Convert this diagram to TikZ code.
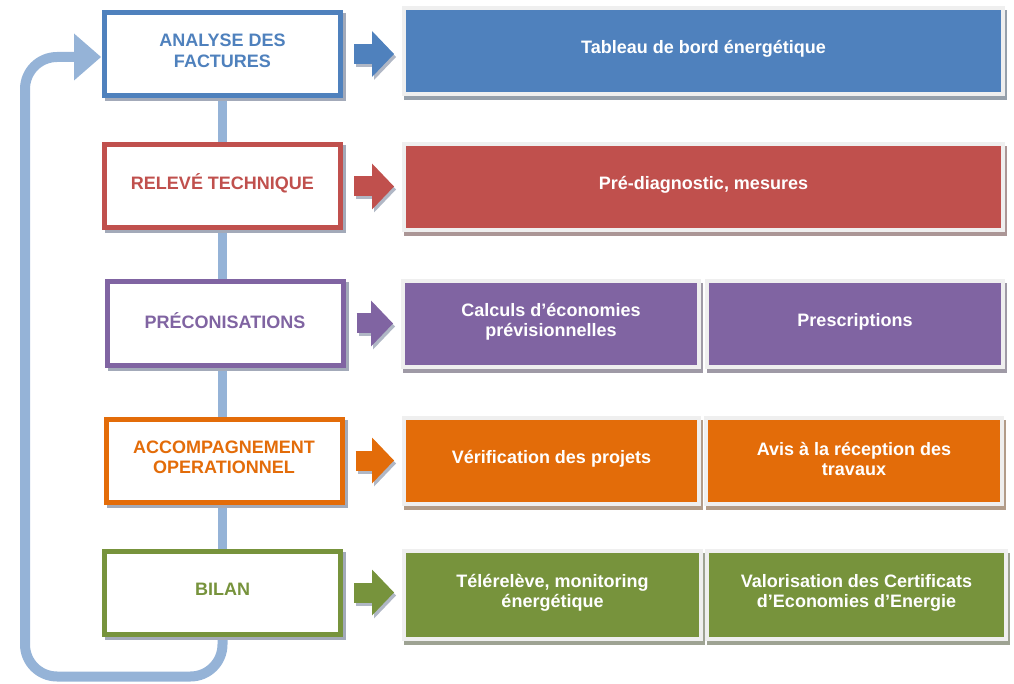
\documentclass[tikz,border=0pt]{standalone}
\usepackage{fontspec}
\setmainfont{Liberation Sans}
\usetikzlibrary{arrows.meta,backgrounds,calc}
\definecolor{cblue}{HTML}{4F81BD}
\definecolor{cred}{HTML}{C0504D}
\definecolor{cpurple}{HTML}{8064A2}
\definecolor{corange}{HTML}{E36C09}
\definecolor{cgreen}{HTML}{77933C}
\definecolor{cloop}{HTML}{95B3D7}
\definecolor{redge}{HTML}{EFEFEF}
\definecolor{lshadow}{HTML}{A3AAB9}
\definecolor{ashadow}{HTML}{B0B7C5}
\tikzset{
  lbox/.style={draw=#1, line width=5pt, fill=white, minimum width=236pt, minimum height=83pt, inner sep=0pt},
  rbox/.style={fill=#1, draw=redge, line width=4pt, inner sep=0pt},
  ltxt/.style={text=#1, align=center, yshift=3pt, inner sep=0pt},
  rtxt/.style={text=white, align=center, yshift=2pt, inner sep=0pt},
  barrow/.style={draw=#1, line width=20pt, shorten <=11pt, shorten >=8pt,
    -{Triangle[length=22pt,width=46pt,line width=0pt]}},
  vline/.style={draw=cloop, line width=8.5pt},
  loopline/.style={draw=cloop, line width=10pt, rounded corners=32pt, shorten >=1pt,
    -{Triangle[length=27pt,width=47pt,line width=0pt]}},
}
\begin{document}
\begin{tikzpicture}[x=1pt,y=-1pt,font=\fontsize{18}{20.5}\selectfont\bfseries]
\useasboundingbox (0,0) rectangle (1014,684);

% left boxes
\node[lbox=cblue, label={[ltxt=cblue]center:{ANALYSE DES\\FACTURES}}] (b1) at (222.5,54) {};
\node[lbox=cred, label={[ltxt=cred]center:{RELEVÉ TECHNIQUE}}] (b2) at (222.5,186.5) {};
\node[lbox=cpurple, label={[ltxt=cpurple]center:{PRÉCONISATIONS}}] (b3) at (225,323.5) {};
\node[lbox=corange, label={[ltxt=corange]center:{ACCOMPAGNEMENT\\OPERATIONNEL}}] (b4) at (224,460.5) {};
\node[lbox=cgreen, label={[ltxt=cgreen]center:{BILAN}}] (b5) at (222.5,592.5) {};

% right boxes
\node[rbox=cblue, minimum width=599pt, minimum height=86pt,
  label={[rtxt]center:{Tableau de bord énergétique}}] (r1) at (703.5,51) {};
\node[rbox=cred, minimum width=599pt, minimum height=86pt,
  label={[rtxt]center:{Pré-diagnostic, mesures}}] (r2) at (703.5,187) {};
\node[rbox=cpurple, minimum width=296pt, minimum height=86pt,
  label={[rtxt]center:{Calculs d’économies\\prévisionnelles}}] (r3a) at (551,324) {};
\node[rbox=cpurple, minimum width=296pt, minimum height=86pt,
  label={[rtxt]center:{Prescriptions}}] (r3b) at (855,324) {};
\node[rbox=corange, minimum width=295pt, minimum height=86pt,
  label={[rtxt]center:{Vérification des projets}}] (r4a) at (551.5,461) {};
\node[rbox=corange, minimum width=296pt, minimum height=86pt,
  label={[rtxt]center:{Avis à la réception des\\travaux}}] (r4b) at (854,461) {};
\node[rbox=cgreen, minimum width=297pt, minimum height=88pt,
  label={[rtxt]center:{Télérelève, monitoring\\énergétique}}] (r5a) at (552.5,595) {};
\node[rbox=cgreen, minimum width=299pt, minimum height=88pt,
  label={[rtxt]center:{Valorisation des Certificats\\d’Economies d’Energie}}] (r5b) at (856.5,595) {};

\coordinate (lc) at (25,57);

\begin{scope}[on background layer]
  \draw[vline] (b1.south) -- (b5.north);
  \draw[loopline] (b5.south) -- ++(0,40) -| (lc) -- (lc -| b1.west);
  \foreach \n in {b1,b2,b3,b4,b5}
    \fill[lshadow] ([shift={(3,3)}]\n.north west) rectangle ([shift={(3,3)}]\n.south east);
  \foreach \n/\c in {r1/cblue,r2/cred,r3a/cpurple,r3b/cpurple,r4a/corange,r4b/corange,r5a/cgreen,r5b/cgreen}
    \fill[fill=\c!25!gray!75!white] ([shift={(2,4)}]\n.north west) rectangle ([shift={(2,4)}]\n.south east);
\end{scope}

% block arrows with shadows
\foreach \a/\b/\c in {b1/r1/cblue,b2/r2/cred,b3/r3a/cpurple,b4/r4a/corange,b5/r5a/cgreen}{
  \begin{scope}[transform canvas={shift={(2pt,-3pt)}}]
    \draw[barrow=ashadow] (\a.east) -- (\a.east -| \b.west);
  \end{scope}
  \draw[barrow=\c] (\a.east) -- (\a.east -| \b.west);
}
\end{tikzpicture}
\end{document}
